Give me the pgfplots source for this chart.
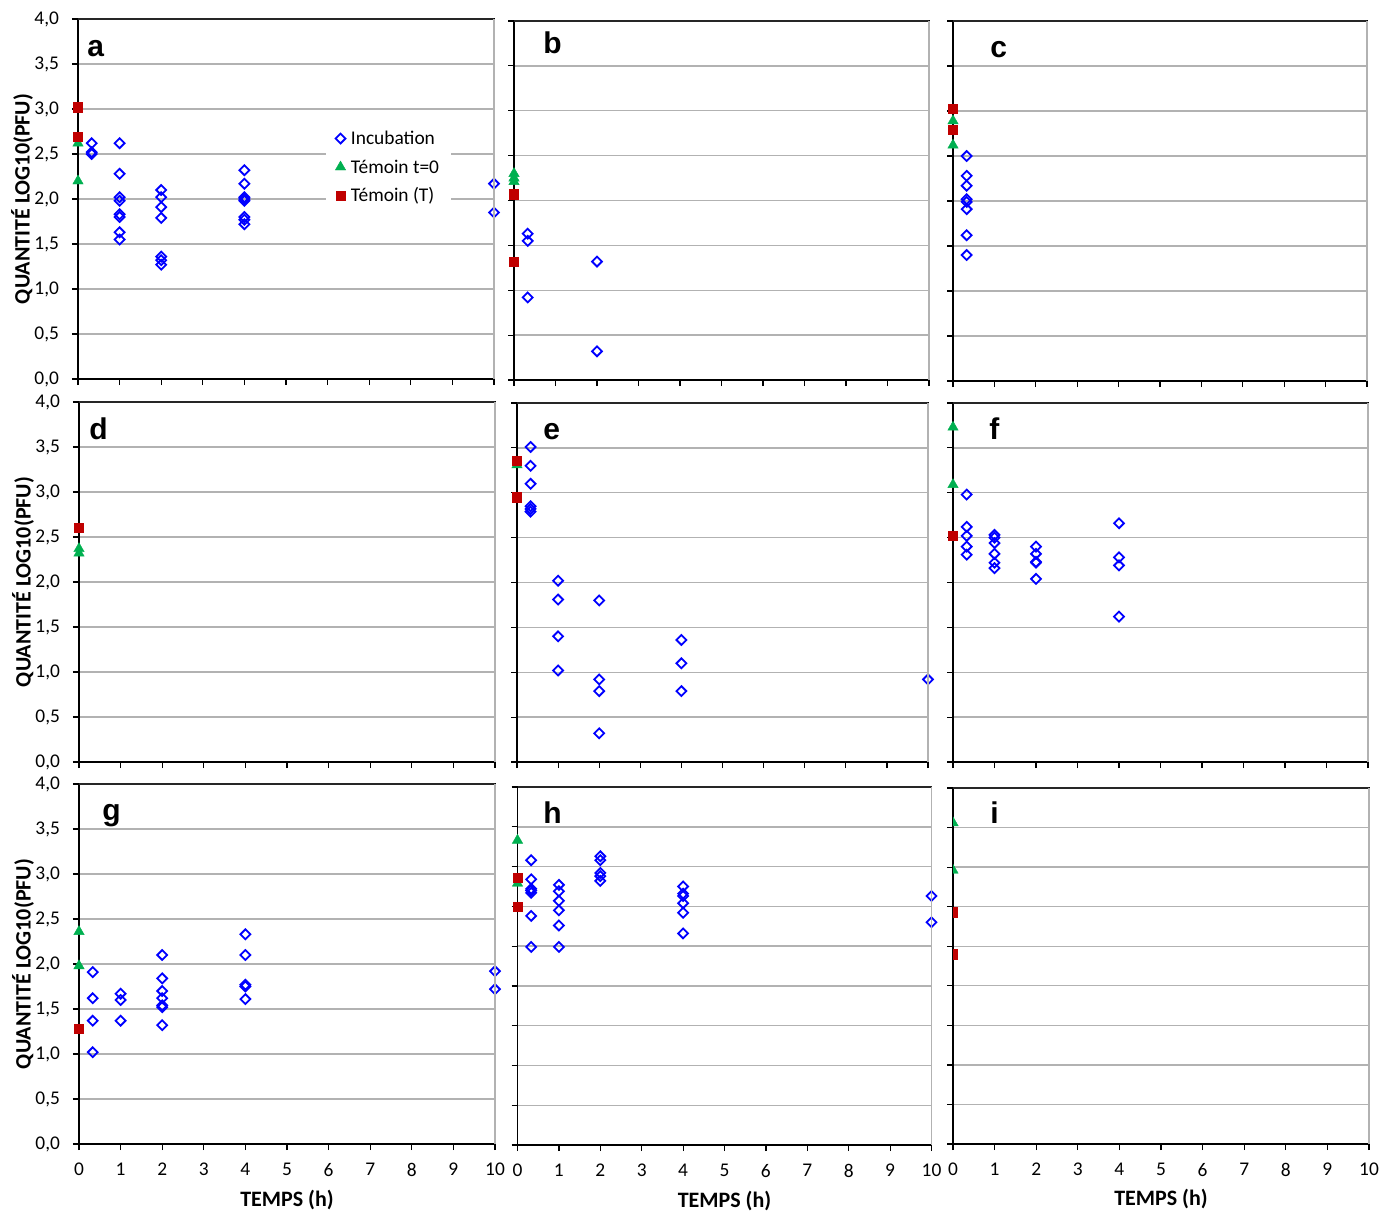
\documentclass[border=0pt]{standalone}
\usepackage{fontspec}
\setmainfont{Carlito}
\newfontfamily\arialfont{Liberation Sans}
\usepackage{pgfplots}
\pgfplotsset{compat=1.18}
\definecolor{incb}{RGB}{0,0,255}
\definecolor{tzg}{RGB}{0,176,80}
\definecolor{ttr}{RGB}{192,0,0}
\newcommand{\tickfont}{\fontsize{9.7}{11}\selectfont}
\newcommand{\labfont}{\fontsize{11}{13}\selectfont\bfseries}
\newcommand{\letfont}{\fontsize{15}{18}\selectfont\arialfont\bfseries}
\pgfplotsset{
  panel/.style={
    scale only axis,
    anchor=south west,
    xmin=0, xmax=10, ymin=0, ymax=4,
    xtick={0,1,...,10}, ytick={0,0.5,...,4},
    tick pos=left,
    axis line style={black, line width=0.8pt},
    tick align=outside, major tick length=3pt,
    tick style={black, line width=0.6pt},
    ymajorgrids, grid style={gray!60, line width=0.7pt},
    clip=false,
    xticklabels={}, yticklabels={},
    tick label style={font=\tickfont},
    xticklabel style={yshift=-3pt},
    yticklabel style={xshift=-3pt},
    every axis y label/.style={at={(axis description cs:-0.1346,0.5)}, rotate=90, anchor=center, font=\labfont},
    every axis x label/.style={at={(axis description cs:0.5,-0.1556)}, anchor=center, font=\labfont},
    extra description/.code={
      \draw[gray!30!black, line width=0.8pt] (0,1) -- (1,1);
      \draw[gray!60, line width=0.8pt] (1,1) -- (1,0);
    },
  },
  xlab/.style={xticklabels={0,1,2,3,4,5,6,7,8,9,10}, xlabel={TEMPS (h)}},
  ylab/.style={yticklabels={{0,0},{0,5},{1,0},{1,5},{2,0},{2,5},{3,0},{3,5},{4,0}}, ylabel={QUANTITÉ LOG10(PFU)}},
  inc/.style={only marks, mark=square, mark size=1.75pt, mark options={rotate=45, line width=0.9pt, draw=incb, fill=none}, color=incb},
  tz/.style={only marks, mark=triangle*, mark size=3pt, color=tzg, mark options={draw=tzg, fill=tzg, line width=0.2pt}},
  tt/.style={only marks, mark=square*, mark size=2.3pt, color=ttr, mark options={draw=ttr, fill=ttr, line width=0.2pt}},
  markleg/.style={legend image code/.code={\draw[##1] plot coordinates {(0pt,0pt)};}},
}
\begin{document}
\begin{tikzpicture}
\useasboundingbox (0pt,0pt) rectangle (691pt,-605.5pt);
% ---------- a ----------
\begin{axis}[panel, ylab, at={(39pt,-189.5pt)}, width=208pt, height=180pt,
  legend style={at={(axis description cs:0.596,0.708)}, anchor=north west, draw=none, fill=white,
    inner xsep=4.5pt, inner ysep=1pt, font=\tickfont, row sep=2.25pt,
    nodes={inner sep=1.5pt, text height=7.5pt, text depth=1.5pt},
    /tikz/every odd column/.append style={column sep=1.1pt}},
  legend cell align=left]
\addplot[inc, markleg] coordinates {(0.33,2.62)(0.33,2.52)(0.33,2.50)(1,2.62)(1,2.28)(1,2.02)(1,1.98)(1,1.83)(1,1.80)(1,1.63)(1,1.55)(2,2.10)(2,2.02)(2,1.91)(2,1.79)(2,1.36)(2,1.32)(2,1.27)(4,2.32)(4,2.17)(4,2.02)(4,2.00)(4,1.98)(4,1.80)(4,1.77)(4,1.72)(10,2.17)(10,1.85)};
\addlegendentry{Incubation}
\addplot[tz, markleg] coordinates {(0,2.62)(0,2.20)};
\addlegendentry{Témoin t=0}
\addplot[tt, markleg] coordinates {(0,3.02)(0,2.69)};
\addlegendentry{Témoin (T)}
\end{axis}
% ---------- b ----------
\begin{axis}[panel, at={(257pt,-190pt)}, width=207.5pt, height=179.5pt]
\addplot[inc] coordinates {(0.33,1.63)(0.33,1.55)(0.33,0.92)(2,1.32)(2,0.32)};
\addplot[tz] coordinates {(0,2.30)(0,2.25)(0,2.21)};
\addplot[tt] coordinates {(0,2.07)(0,1.32)};
\end{axis}
% ---------- c ----------
\begin{axis}[panel, at={(476.5pt,-190.5pt)}, width=207pt, height=180pt]
\addplot[inc] coordinates {(0.33,2.50)(0.33,2.28)(0.33,2.17)(0.33,2.02)(0.33,1.99)(0.33,1.91)(0.33,1.62)(0.33,1.40)};
\addplot[tz] coordinates {(0,2.89)(0,2.62)};
\addplot[tt] coordinates {(0,3.03)(0,2.79)};
\end{axis}
% ---------- d ----------
\begin{axis}[panel, ylab, at={(39.5pt,-381pt)}, width=208pt, height=180pt]
\addplot[tz] coordinates {(0,2.37)(0,2.32)};
\addplot[tt] coordinates {(0,2.60)};
\end{axis}
% ---------- e ----------
\begin{axis}[panel, at={(258.5pt,-381pt)}, width=205.5pt, height=179.5pt]
\addplot[inc] coordinates {(0.33,3.51)(0.33,3.30)(0.33,3.10)(0.33,2.85)(0.33,2.82)(0.33,2.79)(1,2.02)(1,1.81)(1,1.40)(1,1.02)(2,1.80)(2,0.92)(2,0.79)(2,0.32)(4,1.36)(4,1.10)(4,0.79)(10,0.92)};
\addplot[tz] coordinates {(0,3.31)};
\addplot[tt] coordinates {(0,3.36)(0,2.95)};
\end{axis}
% ---------- f ----------
\begin{axis}[panel, at={(476.5pt,-381pt)}, width=207.5pt, height=179.5pt]
\addplot[inc] coordinates {(0.33,2.98)(0.33,2.62)(0.33,2.52)(0.33,2.40)(0.33,2.31)(1,2.53)(1,2.50)(1,2.44)(1,2.32)(1,2.22)(1,2.16)(2,2.40)(2,2.32)(2,2.23)(2,2.22)(2,2.04)(4,2.66)(4,2.28)(4,2.19)(4,1.62)};
\addplot[tz] coordinates {(0,3.73)(0,3.09)};
\addplot[tt] coordinates {(0,2.52)};
\end{axis}
% ---------- g ----------
\begin{axis}[panel, ylab, xlab, at={(39.5pt,-572pt)}, width=208pt, height=180pt]
\addplot[inc] coordinates {(0.33,1.91)(0.33,1.62)(0.33,1.37)(0.33,1.02)(1,1.67)(1,1.60)(1,1.37)(2,2.10)(2,1.84)(2,1.70)(2,1.62)(2,1.54)(2,1.52)(2,1.32)(4,2.33)(4,2.10)(4,1.77)(4,1.75)(4,1.61)(10,1.92)(10,1.72)};
\addplot[tz] coordinates {(0,2.36)(0,1.98)};
\addplot[tt] coordinates {(0,1.28)};
\end{axis}
% ---------- h ----------
\begin{axis}[panel, xlab, ymax=4.5, ytick={0,0.5,...,4.5}, at={(258.75pt,-572.5pt)}, width=207pt, height=179pt]
\addplot[inc] coordinates {(0.33,3.58)(0.33,3.34)(0.33,3.22)(0.33,3.20)(0.33,3.17)(0.33,2.88)(0.33,2.49)(1,3.27)(1,3.19)(1,3.07)(1,2.95)(1,2.76)(1,2.49)(2,3.63)(2,3.58)(2,3.42)(2,3.38)(2,3.32)(4,3.25)(4,3.16)(4,3.13)(4,3.04)(4,2.92)(4,2.66)(10,3.13)(10,2.80)};
\addplot[tz] coordinates {(0,3.83)(0,3.29)};
\addplot[tt] coordinates {(0,3.36)(0,3.00)};
\end{axis}
% ---------- i ----------
\begin{axis}[panel, xlab, ymax=4.5, ytick={0,0.5,...,4.5}, clip=true, clip marker paths=true, at={(476.5pt,-572pt)}, width=208pt, height=178pt]
\addplot[tz] coordinates {(0,4.06)(0,3.46)};
\addplot[tt] coordinates {(0,2.93)(0,2.40)};
\end{axis}
% ---------- panel letters ----------
\node[anchor=base west, inner sep=0, font=\letfont] at (43.5pt,-28pt) {a};
\node[anchor=base west, inner sep=0, font=\letfont] at (271.5pt,-26.5pt) {b};
\node[anchor=base west, inner sep=0, font=\letfont] at (495pt,-28.5pt) {c};
\node[anchor=base west, inner sep=0, font=\letfont] at (44.5pt,-219.5pt) {d};
\node[anchor=base west, inner sep=0, font=\letfont] at (271.5pt,-219.5pt) {e};
\node[anchor=base west, inner sep=0, font=\letfont] at (494.5pt,-219.5pt) {f};
\node[anchor=base west, inner sep=0, font=\letfont] at (51pt,-410pt) {g};
\node[anchor=base west, inner sep=0, font=\letfont] at (271.5pt,-411.5pt) {h};
\node[anchor=base west, inner sep=0, font=\letfont] at (495pt,-411.5pt) {i};
\end{tikzpicture}
\end{document}
